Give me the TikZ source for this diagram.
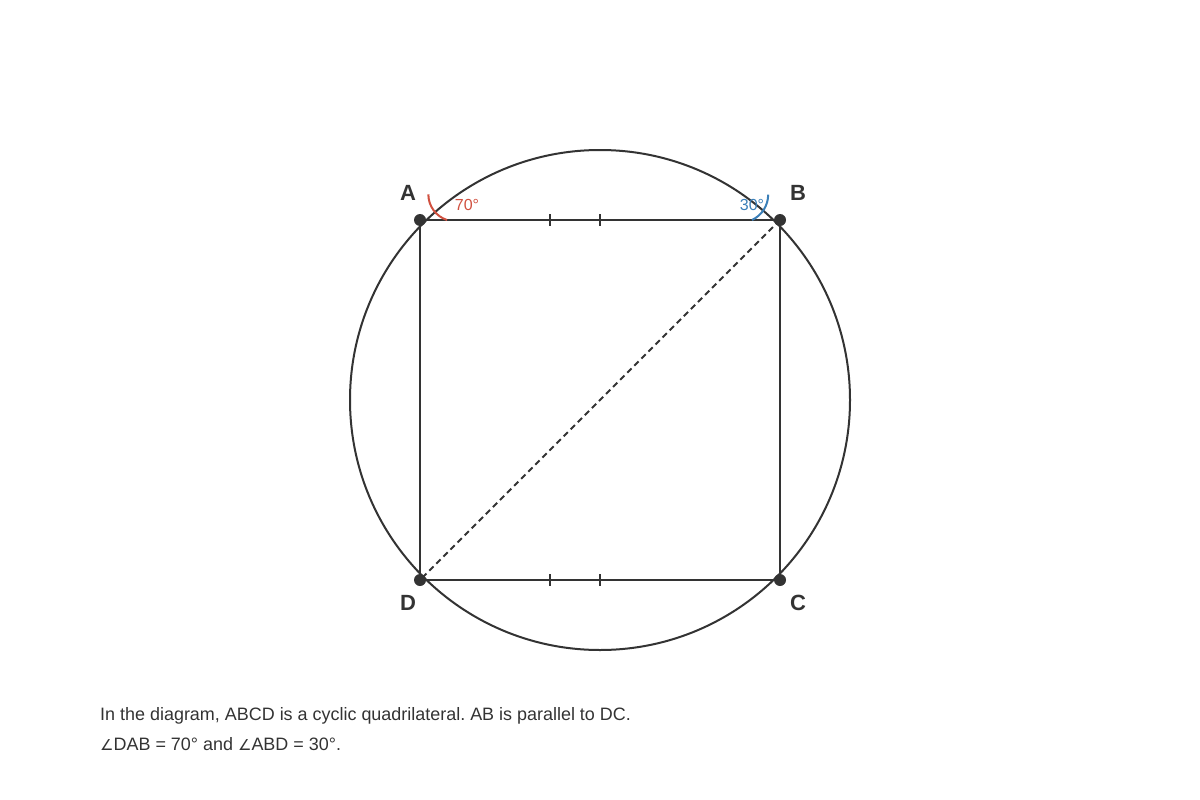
\documentclass[tikz,border=0pt]{standalone}
\usepackage{fontspec}
\setmainfont{Liberation Sans}
\newfontfamily\dejavu{DejaVu Sans}
\definecolor{ink}{HTML}{333333}
\definecolor{angred}{HTML}{D0503F}
\definecolor{angblue}{HTML}{3A7FB8}
\frenchspacing
\begin{document}
\begin{tikzpicture}[x=1pt,y=-1pt,
  edge/.style={draw=ink,line width=2pt},
  vdot/.style={circle,fill=ink,inner sep=0pt,minimum size=12pt},
  vlabel/.style={text=ink,font=\fontsize{22}{26}\selectfont\bfseries},
  anglabel/.style={font=\fontsize{16}{19}\selectfont},
  caption/.style={text=ink,font=\fontsize{17.95}{22}\selectfont,anchor=base west,inner sep=0pt}]
\useasboundingbox (0,0) rectangle (1200,800);
\coordinate (O) at (600,400);
\node[vdot] (A) at (420,220) {};
\node[vdot] (B) at (780,220) {};
\node[vdot] (C) at (780,580) {};
\node[vdot] (D) at (420,580) {};
\draw[edge] (O) circle[radius=250];
\draw[edge] (A.center) -- (B.center) -- (C.center) -- (D.center) -- cycle;
\draw[draw=ink,line width=2pt,dash pattern=on 6pt off 4pt] (B.center) -- (D.center);
% ticks
\foreach \x in {550,600}{
  \draw[draw=ink,line width=1.5pt] (\x,214) -- (\x,226);
  \draw[draw=ink,line width=1.5pt] (\x,574) -- (\x,586);
}
% angle arcs
\coordinate (ra) at (447,220);
\coordinate (rb) at (752,220);
\draw[draw=angred,line width=2pt] (ra) arc[start angle=108,end angle=180,radius=27];
\draw[draw=angblue,line width=2pt] (rb) arc[start angle=65,end angle=0,radius=28];
\node[anglabel,text=angred] (a70) at (467,205) {70°};
\node[anglabel,text=angblue] (b30) at (752,205) {30°};
% vertex labels
\node[vlabel] (lA) at (408,193) {A};
\node[vlabel] (lB) at (798,193) {B};
\node[vlabel] (lC) at (798,603) {C};
\node[vlabel] (lD) at (408,603) {D};
% caption
\node[caption] (t1) at (100,720) {In the diagram, ABCD is a cyclic quadrilateral. AB is parallel to DC.};
\node[caption] (t2) at (100,750) {{\dejavu\fontsize{15}{18}\selectfont ∠}DAB = 70° and {\dejavu\fontsize{15}{18}\selectfont ∠}ABD = 30°.};
\end{tikzpicture}
\end{document}
